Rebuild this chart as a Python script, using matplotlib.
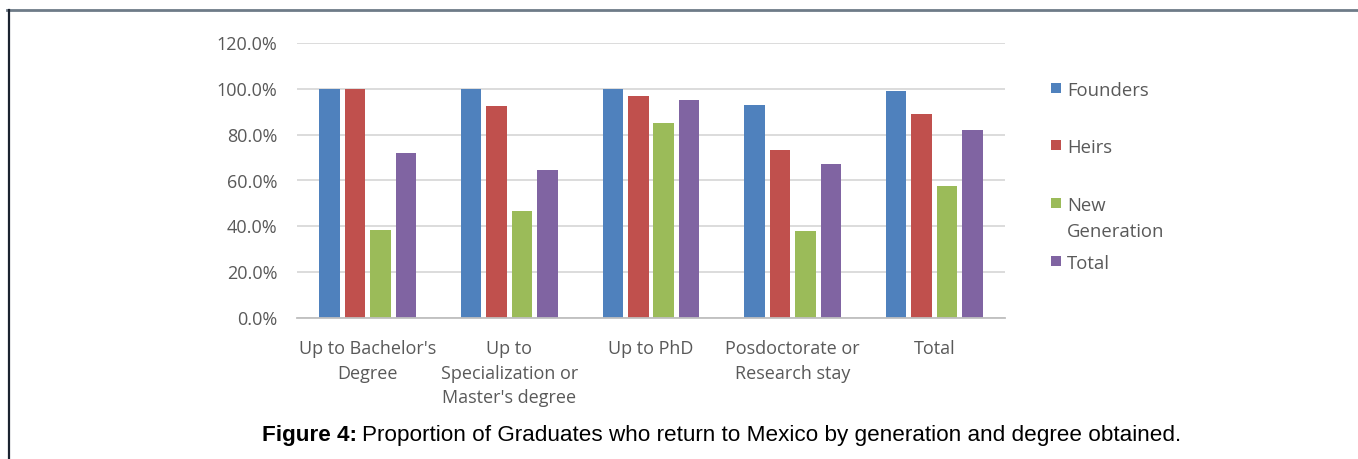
import matplotlib
matplotlib.use("Agg")
import matplotlib.pyplot as plt
import numpy as np
from matplotlib.patches import Rectangle
from matplotlib.lines import Line2D
from matplotlib.ticker import FuncFormatter

# Data
categories = ["Up to Bachelor's\nDegree", "Up to\nSpecialization or\nMaster's degree",
              "Up to PhD", "Posdoctorate or\nResearch stay", "Total"]
series_names = ["Founders", "Heirs", "New\nGeneration", "Total"]
founders = [100.0, 100.0, 100.0, 93.1, 99.2]
heirs = [100.0, 92.5, 97.0, 73.1, 89.2]
new_generation = [38.6, 46.6, 85.1, 38.1, 57.4]
total = [71.9, 64.5, 95.1, 67.3, 81.9]
yticks = [0, 20, 40, 60, 80, 100, 120]

colors = ["#4F81BD", "#C0504D", "#9BBB59", "#8064A2"]
text_gray = "#595959"
font = "Open Sans"

W, H = 1358, 459
fig = plt.figure(figsize=(W / 100, H / 100), dpi=100)
fig.patch.set_facecolor("white")

ax = fig.add_axes([297 / W, 1 - 318 / H, (1005 - 297) / W, (318 - 43) / H])

series = [founders, heirs, new_generation, total]
x = np.arange(len(categories))
slot = 0.18
width = 0.145
for i, (vals, c) in enumerate(zip(series, colors)):
    ax.bar(x + (i - 1.5) * slot, vals, width=width, color=c, zorder=3, linewidth=0)

ax.set_xlim(-0.5, len(categories) - 0.5)
ax.set_ylim(0, 120)
ax.set_yticks(yticks)
ax.yaxis.set_major_formatter(FuncFormatter(lambda v, p: f"{v:.1f}%"))
ax.set_xticks(x)
ax.set_xticklabels(categories, fontfamily=font, fontsize=13, color=text_gray,
                   linespacing=1.45)
for lab in ax.get_yticklabels():
    lab.set_fontfamily(font)
    lab.set_fontsize(13)
    lab.set_color(text_gray)
ax.tick_params(axis="both", length=0)
ax.tick_params(axis="y", pad=14)
ax.tick_params(axis="x", pad=16)
ax.grid(axis="y", color="#D9D9D9", linewidth=1.3, zorder=0)
for s in ["top", "right", "left"]:
    ax.spines[s].set_visible(False)
ax.spines["bottom"].set_color("#BFBFBF")
ax.spines["bottom"].set_linewidth(1.3)
ax.spines["bottom"].set_zorder(4)
ax.set_facecolor("none")

# Legend drawn at fixed spots on the right
legend_y = [90, 147, 205, 263]
for name, c, yc in zip(series_names, colors, legend_y):
    fig.add_artist(Rectangle((1051 / W, 1 - (yc + 3) / H), 10 / W, 10 / H,
                             transform=fig.transFigure, color=c, linewidth=0))
    fig.text(1067 / W, 1 - (yc - 8) / H, name, fontfamily=font, fontsize=13.3,
             color=text_gray, va="top", ha="left", linespacing=1.55)

# Frame lines
fig.add_artist(Line2D([7 / W, 1], [1 - 10 / H, 1 - 10 / H], transform=fig.transFigure,
                      color="#6E7B88", linewidth=2))
fig.add_artist(Line2D([9 / W, 9 / W], [0, 1 - 10 / H], transform=fig.transFigure,
                      color="#1B2330", linewidth=1.6))

# Caption
cap_size = 16.2
t1 = fig.text(262 / W, 1 - 441 / H, "Figure 4:", fontfamily="Liberation Sans",
              fontweight="bold", fontsize=cap_size, color="black", va="baseline", ha="left")
fig.canvas.draw()
bb = t1.get_window_extent()
fig.text(bb.x1 / W + 5 / W, 1 - 441 / H,
         "Proportion of Graduates who return to Mexico by generation and degree obtained.",
         fontfamily="Liberation Sans", fontsize=cap_size, color="black", va="baseline", ha="left")

fig.savefig("out.png", dpi=100, facecolor="white")
